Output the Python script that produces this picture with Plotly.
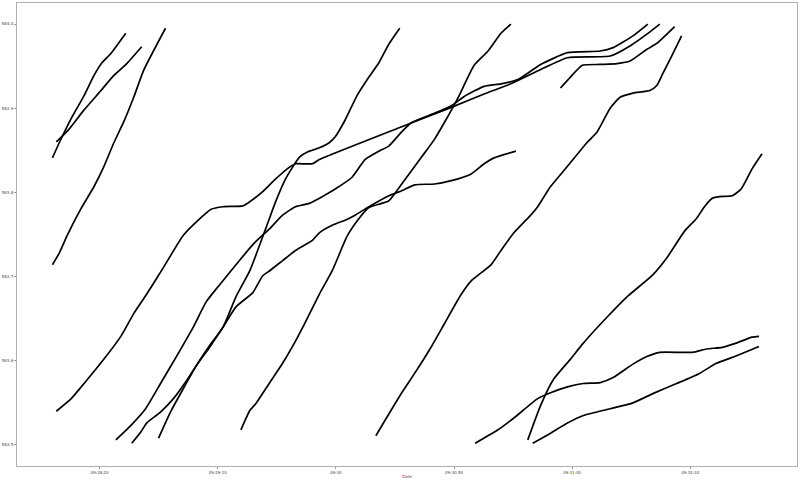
import pandas as pd
import plotly.graph_objects as go

# times are seconds after 09:28:00, values are prices
a_t = [0, 2.90, 8.36, 13.40, 17.61, 20.97, 24.75, 31.05]
a_v = [583.841, 583.859, 583.890, 583.915, 583.939, 583.954, 583.965, 583.989]

b_t = [1.64, 6.68, 13.40, 20.55, 26.01, 31.47, 37.77]
b_v = [583.860, 583.874, 583.898, 583.921, 583.939, 583.953, 583.973]

c_t = [0, 2.90, 6.26, 12.14, 17.61, 21.81, 26.01, 30.21, 34.41, 38.61, 47.86]
c_v = [583.714, 583.728, 583.749, 583.781, 583.807, 583.831, 583.859, 583.884, 583.913, 583.945, 583.995]

d_t = [1.64, 7.94, 13.40, 21.81, 28.95, 34.41, 39.87, 47.02, 55.42, 61.72, 67.18, 72.23, 80.63, 83.57,
       89.03, 94.50, 100.38, 102.90, 110.04, 112.98, 147.86, 168.87, 182.73, 194.08, 206.68, 218.03,
       236.09, 244.50, 251.64, 257.10]
d_v = [583.540, 583.555, 583.573, 583.602, 583.629, 583.656, 583.679, 583.711, 583.749, 583.767, 583.780,
       583.783, 583.784, 583.789, 583.801, 583.816, 583.830, 583.834, 583.834, 583.839, 583.878, 583.901,
       583.917, 583.929, 583.946, 583.960, 583.962, 583.974, 583.988, 584.000]

n_t = [26.85, 33.15, 39.45, 45.76, 52.48, 59.62, 65.08, 70.97, 77.69, 84.83, 91.98, 97.44, 102.90, 108.78,
       114.25, 119.71, 126.85, 132.31, 138.20, 142.40, 147.86, 152.06, 161.72, 168.87, 174.33, 182.73,
       189.88, 197.02, 206.68, 218.03, 231.89, 237.36, 245.76, 252.06]
n_v = [583.506, 583.523, 583.543, 583.573, 583.605, 583.640, 583.670, 583.691, 583.714, 583.738, 583.757,
       583.773, 583.783, 583.787, 583.795, 583.804, 583.818, 583.839, 583.849, 583.855, 583.872, 583.883,
       583.894, 583.903, 583.914, 583.926, 583.929, 583.934, 583.952, 583.966, 583.968, 583.972, 583.986,
       584.000]

m_t = [33.57, 37.35, 39.87, 45.76, 51.22, 56.68, 60.88, 66.77, 72.23, 77.69, 84.83, 89.03, 91.98, 97.44,
       102.90, 110.04, 112.98, 118.45, 123.91, 128.11, 133.99, 142.40, 147.86, 153.32, 161.72, 168.87,
       177.27, 182.73, 186.93, 196.18]
m_v = [583.502, 583.515, 583.526, 583.539, 583.555, 583.576, 583.594, 583.617, 583.640, 583.664, 583.681,
       583.701, 583.707, 583.719, 583.731, 583.743, 583.752, 583.761, 583.767, 583.773, 583.783, 583.796,
       583.802, 583.809, 583.810, 583.814, 583.822, 583.834, 583.841, 583.849]

f_t = [44.92, 49.96, 55.42, 60.88, 66.77, 72.23, 77.69, 83.57, 90.29, 94.50, 98.70, 104.58, 107.94, 112.98,
       117.18, 119.71, 123.91, 128.95, 133.99, 138.20, 142.40, 147.02]
f_v = [583.508, 583.539, 583.567, 583.594, 583.619, 583.640, 583.676, 583.707, 583.757, 583.789, 583.816,
       583.842, 583.848, 583.853, 583.859, 583.866, 583.886, 583.915, 583.937, 583.954, 583.976, 583.995]

e_t = [79.79, 83.57, 86.09, 91.98, 97.44, 101.64, 107.10, 112.98, 118.45, 124.75, 129.79, 133.99, 139.46,
       142.40, 147.86, 156.26, 161.72, 165.92, 171.81, 178.53, 184.41, 189.88, 194.08]
e_v = [583.518, 583.541, 583.549, 583.574, 583.597, 583.617, 583.646, 583.679, 583.707, 583.748, 583.769,
       583.782, 583.787, 583.790, 583.810, 583.842, 583.863, 583.883, 583.913, 583.951, 583.968, 583.989,
       584.000]

h_t = [215.09, 219.29, 224.33, 231.89, 239.03, 244.50, 251.64, 255.84, 263.40]
h_v = [583.924, 583.937, 583.951, 583.952, 583.953, 583.956, 583.970, 583.977, 583.997]

i_t = [136.93, 147.86, 153.32, 160.46, 165.92, 173.07, 177.27, 185.67, 189.88, 195.34, 202.48, 205.42,
       210.88, 218.03, 226.23, 230.63, 236.09, 240.29, 245.76, 252.90, 255.84, 258.36, 262.14, 266.34]
i_v = [583.511, 583.562, 583.585, 583.617, 583.644, 583.679, 583.695, 583.714, 583.731, 583.752, 583.773,
       583.783, 583.807, 583.831, 583.859, 583.872, 583.900, 583.913, 583.918, 583.921, 583.927, 583.941,
       583.962, 583.986]

j_t = [201.22, 206.68, 212.14, 219.29, 224.75, 234.83, 243.24, 254.16, 260.04, 267.60, 272.65, 276.01,
       279.37, 282.31, 287.77, 291.55, 296.18, 300.38]
j_v = [583.506, 583.547, 583.578, 583.602, 583.621, 583.652, 583.676, 583.702, 583.722, 583.754, 583.769,
       583.783, 583.793, 583.795, 583.796, 583.804, 583.828, 583.846]

k_t = [178.95, 188.61, 195.34, 205.42, 210.88, 218.03, 224.75, 231.89, 237.36, 245.76, 251.64, 257.10,
       270.97, 276.85, 283.57, 289.46, 296.18, 299.12]
k_v = [583.502, 583.518, 583.532, 583.555, 583.562, 583.569, 583.573, 583.574, 583.580, 583.596, 583.605,
       583.610, 583.610, 583.614, 583.616, 583.621, 583.628, 583.629]

l_t = [203.32, 210.88, 218.03, 224.75, 236.09, 245.76, 254.16, 264.24, 273.91, 281.05, 287.77, 299.12]
l_v = [583.502, 583.514, 583.526, 583.535, 583.543, 583.550, 583.561, 583.573, 583.585, 583.597, 583.604,
       583.617]

x_tick_secs = [20, 70, 120, 170, 220, 270]
x_tick_text = ["09:28:20", "09:29:10", "09:30", "09:30:50", "09:31:40", "09:32:30"]
y_ticks = [583.5, 583.6, 583.7, 583.8, 583.9, 584.0]
y_tick_text = ["583.5", "583.6", "583.7", "583.8", "583.9", "584.0"]

base = pd.Timestamp("2021-01-04 09:28:00")


def ts(secs):
    return base + pd.to_timedelta(secs, unit="s")


series = [(a_t, a_v), (b_t, b_v), (c_t, c_v), (d_t, d_v), (n_t, n_v), (m_t, m_v), (f_t, f_v),
          (e_t, e_v), (h_t, h_v), (i_t, i_v), (j_t, j_v), (k_t, k_v), (l_t, l_v)]

fig = go.Figure()
for t, v in series:
    fig.add_trace(go.Scatter(x=ts(t), y=v, mode="lines",
                             line=dict(color="black", width=1.7, shape="spline", smoothing=0.5),
                             showlegend=False, hoverinfo="skip"))

axis_common = dict(showgrid=False, zeroline=False, showline=True, linecolor="#b0b0b0",
                   linewidth=1, mirror=True, ticks="outside", ticklen=2, tickcolor="#999999",
                   tickfont=dict(size=4, color="#444444", family="DejaVu Sans"))

fig.update_layout(
    width=800, height=481,
    margin=dict(l=13, r=2, t=2, b=11),
    paper_bgcolor="white", plot_bgcolor="white",
    xaxis=dict(range=[ts(-15), ts(315.2)], tickvals=ts(x_tick_secs), ticktext=x_tick_text,
               title=dict(text="Date", font=dict(size=4, color="#444444", family="DejaVu Sans"),
                          standoff=1),
               **axis_common),
    yaxis=dict(range=[583.475, 584.025], tickvals=y_ticks, ticktext=y_tick_text, **axis_common),
)

fig.write_html("out.html")
